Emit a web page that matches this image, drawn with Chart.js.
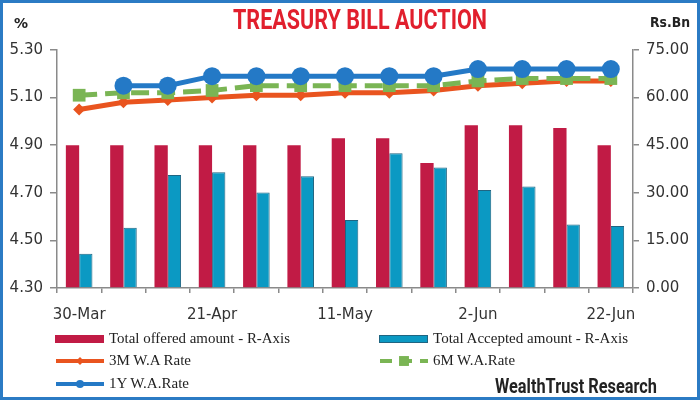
<!DOCTYPE html>
<html>
<head>
<meta charset="utf-8">
<script src="https://cdn.jsdelivr.net/npm/chart.js@4.4.0/dist/chart.umd.min.js"></script>
<style>
  body { margin: 0; background: #fff; }
  #wrap { position: relative; width: 700px; height: 400px; overflow: hidden; }
  #chartCanvas { position: absolute; left: 0; top: 0; }
  #frame { position: absolute; left: 0; top: 0; width: 700px; height: 400px; box-sizing: border-box;
           border: 3px solid #2b7bc4; pointer-events: none; }
  .txt { position: absolute; white-space: nowrap; line-height: 1; transform-origin: left top; }
  #title { color: #e11f2d; font: bold 27px 'Liberation Sans Narrow', Roboto, sans-serif; left: 233px; top: 4px; }
  #unitL { font: bold 14px 'DejaVu Sans', sans-serif; color: #222; left: 14px; top: 15px; }
  #unitR { font: bold 14px 'DejaVu Sans', sans-serif; color: #222; left: 650px; top: 14px; }
  #brand { font: bold 20px 'Liberation Sans Narrow', Roboto, sans-serif; color: #222; left: 495px; top: 374px; }
  .leg { position: absolute; height: 20px; display: flex; align-items: center; }
  .leg canvas { display: block; }
  .leg span { font: 14px 'Liberation Serif', serif; color: #222; white-space: nowrap; margin-left: 3px;
              display: inline-block; transform-origin: left center; }
</style>
</head>
<body>
<div id="wrap">
  <canvas id="chartCanvas" width="700" height="400"></canvas>
  <div id="title" class="txt">TREASURY BILL AUCTION</div>
  <div id="unitL" class="txt">%</div>
  <div id="unitR" class="txt">Rs.Bn</div>
  <div id="brand" class="txt">WealthTrust Research</div>
  <div id="legend"></div>
  <div id="frame"></div>
</div>
<script>
const categories = ['30-Mar', '6-Apr', '12-Apr', '21-Apr', '27-Apr', '4-May', '11-May',
                    '18-May', '25-May', '2-Jun', '8-Jun', '15-Jun', '22-Jun'];
const shownDates = ['30-Mar', '21-Apr', '11-May', '2-Jun', '22-Jun'];

const offeredAmount = [45, 45, 45, 45, 45, 45, 47.2, 47.2, 39.4, 51.3, 51.3, 50.4, 45];
const acceptedAmount = [10.8, 19.0, 35.6, 36.5, 30.1, 35.2, 21.4, 42.5, 38.0, 30.9, 32.0, 20.0, 19.5];

const rate3M = [5.05, 5.08, 5.09, 5.10, 5.11, 5.11, 5.12, 5.12, 5.13, 5.15, 5.16, 5.17, 5.17];
const rate6M = [5.11, 5.12, 5.12, 5.13, 5.15, 5.15, 5.15, 5.15, 5.15, 5.17, 5.18, 5.18, 5.18];
const rate1Y = [null, 5.15, 5.15, 5.19, 5.19, 5.19, 5.19, 5.19, 5.19, 5.22, 5.22, 5.22, 5.22];

const rateTicks = [4.30, 4.50, 4.70, 4.90, 5.10, 5.30];
const amountTicks = [0, 15, 30, 45, 60, 75];

const axisGrey = '#8a8a8a';
const tickFont = { family: 'DejaVu Sans', size: 15 };

function fitWidth(el, w) {
  const r = el.getBoundingClientRect().width;
  el.style.transform = 'scaleX(' + (w / r) + ')';
}

const ctx = document.getElementById('chartCanvas').getContext('2d');

const data = {
  labels: categories,
  datasets: [
    { type: 'line', label: '3M W.A Rate', data: rate3M, yAxisID: 'yL',
      borderColor: '#e9541f', backgroundColor: '#e9541f', borderWidth: 5,
      pointStyle: 'rectRot', pointRadius: 6, pointBorderWidth: 0, tension: 0, order: 3 },
    { type: 'line', label: '6M W.A.Rate', data: rate6M, yAxisID: 'yL',
      borderColor: '#7ab554', backgroundColor: '#7ab554', borderWidth: 5, borderDash: [18, 8],
      pointStyle: 'rect', pointRadius: 9, pointBorderWidth: 0, tension: 0, order: 2 },
    { type: 'line', label: '1Y W.A.Rate', data: rate1Y, yAxisID: 'yL',
      borderColor: '#2479c6', backgroundColor: '#2479c6', borderWidth: 5,
      pointStyle: 'circle', pointRadius: 9, pointBorderWidth: 0, tension: 0, order: 1 },
    { type: 'bar', label: 'Total offered amount - R-Axis', data: offeredAmount, yAxisID: 'yR',
      backgroundColor: '#c11b45', order: 4, barPercentage: 1, categoryPercentage: 0.6 },
    { type: 'bar', label: 'Total Accepted amount - R-Axis', data: acceptedAmount, yAxisID: 'yR',
      backgroundColor: '#0b99c3', borderColor: '#1f6582', borderWidth: 1, order: 5,
      barPercentage: 1, categoryPercentage: 0.6 }
  ]
};

const config = {
  type: 'bar',
  data: data,
  options: {
    responsive: false,
    animation: false,
    layout: { padding: { top: 50, left: 0, right: 0, bottom: 0 } },
    plugins: { legend: { display: false }, tooltip: { enabled: false } },
    scales: {
      x: {
        offset: true,
        grid: { offset: true, drawOnChartArea: false, tickLength: 5, color: axisGrey, lineWidth: 1.5 },
        border: { color: axisGrey, width: 1.5 },
        ticks: {
          autoSkip: false, maxRotation: 0, padding: 13, color: '#333', font: tickFont,
          callback: function(value, index) {
            const lbl = categories[index];
            return shownDates.includes(lbl) ? lbl : '';
          }
        },
        afterFit: function(s) { s.height = 112; }
      },
      yL: {
        position: 'left', min: 4.3, max: 5.3,
        afterBuildTicks: function(s) { s.ticks = rateTicks.map(v => ({ value: v })); },
        grid: { drawOnChartArea: false, tickLength: 7, color: axisGrey, lineWidth: 1.5 },
        border: { color: axisGrey, width: 1.5 },
        ticks: { padding: 7, color: '#333', font: tickFont, callback: v => v.toFixed(2) },
        afterFit: function(s) { s.width = 57; }
      },
      yR: {
        position: 'right', min: 0, max: 75,
        afterBuildTicks: function(s) { s.ticks = amountTicks.map(v => ({ value: v })); },
        grid: { drawOnChartArea: false, tickLength: 6, color: axisGrey, lineWidth: 1.5 },
        border: { color: axisGrey, width: 1.5 },
        ticks: { padding: 7, color: '#333', font: tickFont, callback: v => v.toFixed(2) },
        afterFit: function(s) { s.width = 67; }
      }
    }
  }
};

const myChart = new Chart(ctx, config);

// html legend built from the datasets
const slots = {
  'Total offered amount - R-Axis': { x: 54, y: 339, w: 181 },
  'Total Accepted amount - R-Axis': { x: 378, y: 339, w: 195 },
  '3M W.A Rate': { x: 54, y: 361, w: 82 },
  '6M W.A.Rate': { x: 378, y: 361, w: 82 },
  '1Y W.A.Rate': { x: 54, y: 384, w: 80 }
};
const legendEl = document.getElementById('legend');
myChart.data.datasets.forEach(function(ds) {
  const slot = slots[ds.label];
  const row = document.createElement('div');
  row.className = 'leg';
  row.style.left = slot.x + 'px';
  row.style.top = (slot.y - 10) + 'px';
  const sw = document.createElement('canvas');
  sw.width = 52; sw.height = 20;
  const c = sw.getContext('2d');
  if (ds.type === 'bar') {
    c.fillStyle = ds.backgroundColor;
    c.fillRect(1, 6, 49, 8);
    if (ds.borderWidth) { c.strokeStyle = ds.borderColor; c.lineWidth = 1; c.strokeRect(1.5, 6.5, 48, 7); }
  } else {
    c.strokeStyle = ds.borderColor;
    c.lineWidth = 4;
    if (ds.borderDash) c.setLineDash([12, 8]);
    c.beginPath(); c.moveTo(2, 10); c.lineTo(50, 10); c.stroke();
    c.setLineDash([]);
    c.fillStyle = ds.backgroundColor;
    Chart.helpers.drawPoint(c, { pointStyle: ds.pointStyle, radius: ds.pointStyle === 'rect' ? 7 : 4, rotation: 0, borderWidth: 0 }, 26, 10);
  }
  row.appendChild(sw);
  const t = document.createElement('span');
  t.textContent = ds.label;
  row.appendChild(t);
  legendEl.appendChild(row);
  fitWidth(t, slot.w);
});

fitWidth(document.getElementById('title'), 254);
fitWidth(document.getElementById('unitR'), 40);
fitWidth(document.getElementById('brand'), 162);
</script>
</body>
</html>
